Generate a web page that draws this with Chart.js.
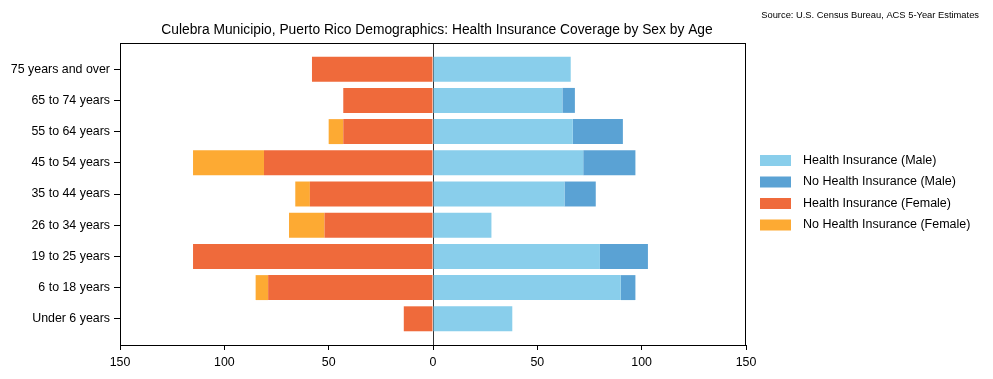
<!DOCTYPE html>
<html>
<head>
<meta charset="utf-8">
<script src="https://cdn.jsdelivr.net/npm/chart.js@4"></script>
<style>
html,body{margin:0;padding:0;background:#fff;}
#c{display:block;}
</style>
</head>
<body>
<canvas id="c" width="993" height="379"></canvas>
<script>
const categories = ["Under 6 years","6 to 18 years","19 to 25 years","26 to 34 years","35 to 44 years","45 to 54 years","55 to 64 years","65 to 74 years","75 years and over"];
const maleInsured   = [38, 90, 80, 28, 63, 72, 67, 62, 66];
const maleUninsured = [0, 7, 23, 0, 15, 25, 24, 6, 0];
const femaleInsured   = [14, 79, 115, 52, 59, 81, 43, 43, 58];
const femaleUninsured = [0, 6, 0, 17, 7, 34, 7, 0, 0];
const seriesNames = ["Health Insurance (Male)","No Health Insurance (Male)","Health Insurance (Female)","No Health Insurance (Female)"];
const xTicks = [-150, -100, -50, 0, 50, 100, 150];
const titleText = "Culebra Municipio, Puerto Rico Demographics: Health Insurance Coverage by Sex by Age";
const sourceText = "Source: U.S. Census Bureau, ACS 5-Year Estimates";

const colors = ["#89CEEB", "#5AA2D4", "#EF6A3B", "#FDAA33"];
const FONT = "'Liberation Sans', Arial, sans-serif";

function toPoints(arr, sign) {
  return arr.map((v, i) => ({ x: sign * v, y: i }));
}

const datasets = [
  { label: seriesNames[0], data: toPoints(maleInsured, 1), backgroundColor: colors[0] },
  { label: seriesNames[1], data: toPoints(maleUninsured, 1), backgroundColor: colors[1] },
  { label: seriesNames[2], data: toPoints(femaleInsured, -1), backgroundColor: colors[2] },
  { label: seriesNames[3], data: toPoints(femaleUninsured, -1), backgroundColor: colors[3] }
];

const decor = {
  id: 'decor',
  afterDraw(chart) {
    const ctx = chart.ctx;
    const a = chart.chartArea;
    ctx.save();
    ctx.strokeStyle = '#000';
    ctx.lineWidth = 1;
    ctx.strokeRect(Math.round(a.left) + 0.5, Math.round(a.top) + 0.5, Math.round(a.right - a.left) - 1, Math.round(a.bottom - a.top));
    ctx.fillStyle = '#000';
    ctx.font = "13.8px " + FONT;
    ctx.textAlign = 'center';
    ctx.textBaseline = 'middle';
    ctx.fillText(titleText, 437, 30);
    ctx.font = "9.35px " + FONT;
    ctx.textAlign = 'right';
    ctx.fillText(sourceText, 979, 15);
    const rows = [160.5, 182, 203.5, 225];
    ctx.font = "12.5px " + FONT;
    ctx.textAlign = 'left';
    for (let i = 0; i < seriesNames.length; i++) {
      ctx.fillStyle = colors[i];
      ctx.fillRect(760, rows[i] - 5.5, 31, 11);
      ctx.fillStyle = '#000';
      ctx.fillText(seriesNames[i], 803, rows[i]);
    }
    ctx.restore();
  }
};

new Chart(document.getElementById('c'), {
  type: 'bar',
  data: { datasets },
  options: {
    indexAxis: 'y',
    responsive: false,
    animation: false,
    devicePixelRatio: 1,
    layout: { padding: { left: 0, right: 247, top: 43, bottom: 0 } },
    datasets: { bar: { categoryPercentage: 1.0, barPercentage: 0.8, borderWidth: 0 } },
    plugins: { legend: { display: false }, title: { display: false }, tooltip: { enabled: false } },
    scales: {
      x: {
        type: 'linear',
        stacked: true,
        min: -150, max: 150,
        afterBuildTicks(scale) { scale.ticks = xTicks.map(v => ({ value: v })); },
        afterFit(scale) { scale.height = 34; },
        ticks: {
          color: '#000',
          font: { size: 12.4, family: FONT },
          padding: 5,
          maxRotation: 0,
          callback: v => String(Math.abs(v))
        },
        grid: {
          color: ctx => (ctx.tick && ctx.tick.value === 0) ? '#333' : 'rgba(0,0,0,0)',
          tickColor: '#000',
          tickLength: 5,
          lineWidth: 1
        },
        border: { display: true, color: '#000' }
      },
      y: {
        type: 'linear',
        stacked: true,
        offset: false,
        min: -0.84, max: 8.84,
        afterBuildTicks(scale) { scale.ticks = categories.map((c, i) => ({ value: i })); },
        afterFit(scale) { scale.width = 120; },
        ticks: {
          color: '#000',
          font: { size: 12.4, family: FONT },
          padding: 4,
          autoSkip: false,
          callback: v => categories[v]
        },
        grid: { offset: false, drawOnChartArea: false, tickColor: '#000', tickLength: 6 },
        border: { display: true, color: '#000' }
      }
    }
  },
  plugins: [decor]
});
</script>
</body>
</html>
